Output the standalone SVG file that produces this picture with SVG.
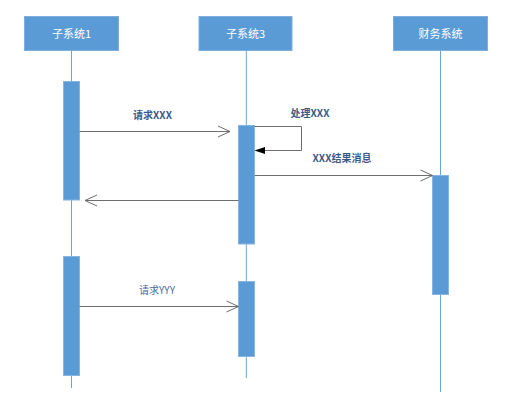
<svg xmlns="http://www.w3.org/2000/svg" width="528" height="412" viewBox="0 0 528 412">
<style>
.hdr{fill:#5B9BD5;stroke:#7DAEDD;stroke-width:1}
.hdrt{font-family:"Noto Sans CJK SC","Liberation Sans",sans-serif;font-size:11px;fill:#FFFFFF;text-anchor:middle}
.life{stroke:#6AA4DA;stroke-width:1;fill:none}
.act{fill:#5B9BD5;stroke:#86B5E2;stroke-width:1}
.msg{stroke:#6E6E6E;stroke-width:1;fill:none}
.lbl{font-family:"Noto Sans CJK SC","Liberation Sans",sans-serif;font-size:10px;fill:#3A5A8A;text-anchor:middle;font-weight:bold}
.lbl2{font-family:"Noto Sans CJK SC","Liberation Sans",sans-serif;font-size:10px;fill:#4A6B98;text-anchor:middle}
</style>
<rect width="528" height="412" fill="#FFFFFF"/>
<g id="node-sub1">
<rect class="hdr" x="24.5" y="16.5" width="94" height="34"/>
<text class="hdrt" x="71.5" y="37.5">子系统1</text>
<line class="life" x1="71.5" y1="50.5" x2="71.5" y2="388"/>
<rect class="act" x="63.5" y="81.5" width="16" height="118.5"/>
<rect class="act" x="63.5" y="256.5" width="16" height="119"/>
</g>
<g id="node-sub3">
<rect class="hdr" x="199" y="16.5" width="93" height="34"/>
<text class="hdrt" x="245.5" y="37.5">子系统3</text>
<line class="life" x1="246.3" y1="50.5" x2="246.3" y2="378"/>
<rect class="act" x="238.5" y="125.5" width="16" height="118.5"/>
<rect class="act" x="238.5" y="281.5" width="16" height="75"/>
</g>
<g id="node-finance">
<rect class="hdr" x="393.5" y="16.5" width="94" height="34"/>
<text class="hdrt" x="440.5" y="37.5">财务系统</text>
<line class="life" x1="440.5" y1="50.5" x2="440.5" y2="392"/>
<rect class="act" x="432.5" y="175.5" width="16" height="119"/>
</g>
<g id="connectors">
<line class="msg" x1="79.5" y1="131.5" x2="230" y2="131.5"/>
<polyline class="msg" points="218,126 230,131.5 218,137"/>
<text class="lbl" x="152.5" y="118.5">请求XXX</text>
<polyline class="msg" points="254.5,126.5 301.5,126.5 301.5,150.5 256,150.5"/>
<polygon points="254.5,150.5 265,147 265,154" fill="#000000"/>
<text class="lbl" x="310" y="116.5">处理XXX</text>
<line class="msg" x1="238.5" y1="200.5" x2="85" y2="200.5"/>
<polyline class="msg" points="97,195 85,200.5 97,206"/>
<line class="msg" x1="254.5" y1="175.5" x2="432.5" y2="175.5"/>
<polyline class="msg" points="420.5,170 432.5,175.5 420.5,181"/>
<text class="lbl" x="342" y="161.5">XXX结果消息</text>
<line class="msg" x1="79.5" y1="306.5" x2="238.5" y2="306.5"/>
<polyline class="msg" points="226.5,301 238.5,306.5 226.5,312"/>
<text class="lbl2" x="157" y="293.5">请求YYY</text>
</g>
</svg>
